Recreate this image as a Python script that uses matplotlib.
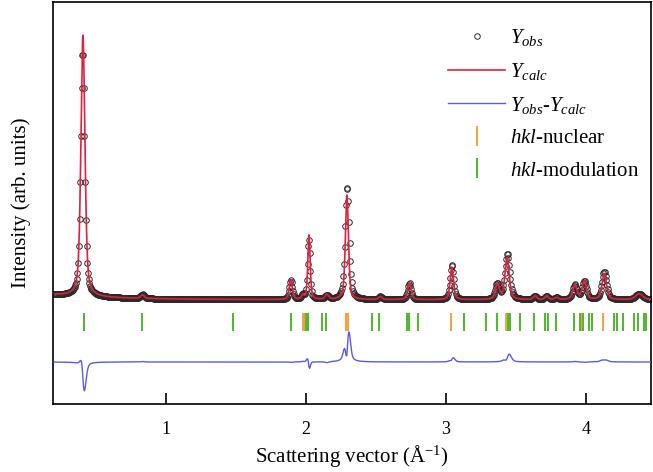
import numpy as np
import matplotlib
matplotlib.use("Agg")
import matplotlib.pyplot as plt
from matplotlib.lines import Line2D

plt.rcParams["font.family"] = ["Liberation Serif", "DejaVu Serif"]
plt.rcParams["mathtext.fontset"] = "custom"
plt.rcParams["mathtext.rm"] = "Liberation Serif"
plt.rcParams["mathtext.it"] = "Liberation Serif:italic"
plt.rcParams["mathtext.bf"] = "Liberation Serif:bold"

# ---- refined peak list (Q in 1/Å, intensities in arb. units) ----
peak_q      = [0.404, 0.830, 1.890, 1.975, 2.020, 2.148, 2.291, 2.529, 2.738,
               3.041, 3.366, 3.436, 3.636, 3.719, 3.790, 3.921, 3.988, 4.131, 4.381]
calc_height = [1045, 14, 80, 16, 258, 20, 418, 12, 66,
               130, 62, 168, 14, 14, 8, 56, 74, 104, 24]
calc_fwhm   = [0.034, 0.030, 0.026, 0.020, 0.020, 0.030, 0.026, 0.030, 0.030,
               0.028, 0.034, 0.036, 0.030, 0.030, 0.030, 0.036, 0.036, 0.038, 0.060]

# measured peaks
obs_q       = [0.4025, 0.830, 1.890, 1.975, 2.019, 2.148, 2.293, 2.529, 2.738,
               3.042, 3.366, 3.438, 3.636, 3.719, 3.790, 3.921, 3.988, 4.131, 4.381]
obs_height  = [985, 16, 78, 18, 240, 16, 452, 12, 66,
               140, 62, 184, 14, 14, 8, 58, 72, 112, 24]
obs_fwhm    = [0.033, 0.030, 0.026, 0.020, 0.021, 0.030, 0.034, 0.030, 0.030,
               0.030, 0.034, 0.040, 0.030, 0.030, 0.030, 0.036, 0.036, 0.040, 0.060]

peak_eta = 0.5

# background: constant + decaying low-Q part
bkg_level, bkg_amp, bkg_decay = 1.0, 20.0, 0.45

# scan range
q_start, q_stop, q_step = 0.20, 4.46, 0.005

# reflection positions
hkl_nuclear = [1.976, 1.986, 2.284, 2.298, 3.036, 3.426, 3.962, 3.972, 4.124]
hkl_modulation = [0.410, 0.826, 1.476, 1.890, 2.000, 2.016, 2.112, 2.143,
                  2.469, 2.524, 2.719, 2.738, 2.802, 3.131, 3.284, 3.362,
                  3.441, 3.457, 3.529, 3.631, 3.707, 3.731, 3.786, 3.914,
                  3.955, 3.980, 4.024, 4.045, 4.200, 4.219, 4.262, 4.343,
                  4.369, 4.414, 4.429]

diff_offset = -248
hkl_row = (-124, -52)


def pseudo_voigt(q, center, fwhm, eta):
    hw = fwhm / 2.0
    d = (q - center) / hw
    lor = 1.0 / (1.0 + d ** 2)
    gau = np.exp(-np.log(2.0) * d ** 2)
    return eta * lor + (1.0 - eta) * gau


def pattern(q, centers, heights, widths):
    y = bkg_level + bkg_amp * np.exp(-(q - q_start) / bkg_decay)
    for c, h, w in zip(centers, heights, widths):
        y = y + h * pseudo_voigt(q, c, w, peak_eta)
    return y


q_obs = np.arange(q_start, q_stop + q_step / 2, q_step)
q_fine = np.arange(q_start, q_stop, 0.001)

y_obs = pattern(q_obs, obs_q, obs_height, obs_fwhm)
y_calc_obsgrid = pattern(q_obs, peak_q, calc_height, calc_fwhm)
y_calc = pattern(q_fine, peak_q, calc_height, calc_fwhm)
y_diff = y_obs - y_calc_obsgrid + diff_offset

fig = plt.figure(figsize=(6.53, 4.72), dpi=100)
ax = fig.add_axes([53 / 653, 68 / 472, 598 / 653, 402 / 472])

obs_color = "#2a2a2a"
calc_color = "#e0203c"
diff_color = "#5a5ae6"
nuc_color = "#f5a040"
mod_color = "#4cb82c"

ax.plot(q_obs, y_obs, linestyle="none", marker="o", markersize=4.0,
        markerfacecolor="none", markeredgecolor=obs_color,
        markeredgewidth=0.7, zorder=2)
ax.plot(q_fine, y_calc, color=calc_color, linewidth=1.2, zorder=3)
ax.plot(q_obs, y_diff, color=diff_color, linewidth=1.0, zorder=3)
ax.vlines(hkl_nuclear, hkl_row[0], hkl_row[1], color=nuc_color, linewidth=1.4)
ax.vlines(hkl_modulation, hkl_row[0], hkl_row[1], color=mod_color, linewidth=1.4)

ax.set_xlim(0.19, 4.465)
ax.set_ylim(-416, 1192)
ax.set_xticks([1, 2, 3, 4])
ax.set_yticks([])
ax.tick_params(axis="x", direction="in", length=8, width=1.2, pad=12,
               labelsize=13)
for sp in ax.spines.values():
    sp.set_linewidth(1.2)

ax.set_xlabel("Scattering vector (Å$^{-1}$)", fontsize=15, labelpad=4)
ax.set_ylabel("Intensity (arb. units)", fontsize=15, labelpad=16)

handles = [
    Line2D([], [], linestyle="none", marker="o", markersize=4.0,
           markerfacecolor="none", markeredgecolor=obs_color, markeredgewidth=0.7),
    Line2D([], [], color=calc_color, linewidth=1.2),
    Line2D([], [], color=diff_color, linewidth=1.0),
    Line2D([], [], linestyle="none", marker="|", markersize=14,
           markeredgewidth=1.4, color=nuc_color),
    Line2D([], [], linestyle="none", marker="|", markersize=14,
           markeredgewidth=1.4, color=mod_color),
]
labels = [r"$Y_{obs}$", r"$Y_{calc}$", r"$Y_{obs}$-$Y_{calc}$",
          r"$hkl$-nuclear", r"$hkl$-modulation"]
ax.legend(handles, labels, loc="upper left", bbox_to_anchor=(0.6605, 0.938),
          frameon=False, fontsize=15, handlelength=2.75, handletextpad=0.25,
          labelspacing=0.62, borderpad=0, borderaxespad=0)

fig.savefig("out.png", dpi=100)
